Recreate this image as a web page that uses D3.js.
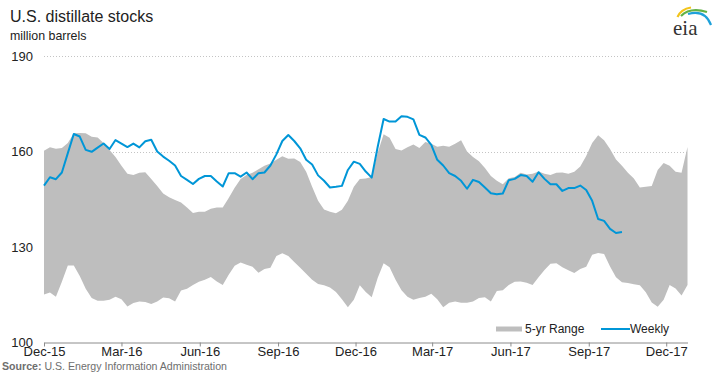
<!DOCTYPE html>
<html>
<head>
<meta charset="utf-8">
<script src="https://cdn.jsdelivr.net/npm/d3@7"></script>
<style>
  html, body { margin: 0; padding: 0; background: #fff; }
  svg { display: block; font-family: "Liberation Sans", Arial, sans-serif; }
</style>
</head>
<body>
<svg id="chart" width="719" height="384"></svg>
<script>
// ---- data (million barrels, weekly) ----
const firstWeek = "2015-12-01";
const lastWeek = "2017-12-26";
const weekly = [149.3,151.9,151.3,153.4,159.5,165.5,164.7,160.5,159.9,161.2,
  162.5,160.8,163.6,162.5,161.4,162.5,161.3,163.2,163.7,160.0,
  158.4,157.1,155.6,152.3,151.1,149.8,151.4,152.3,152.3,150.6,
  149.0,153.2,153.2,152.1,153.4,151.3,153.2,153.4,155.6,159.1,
  163.3,165.2,163.3,161.0,157.4,155.9,152.5,150.8,148.7,148.9,
  149.2,154.2,156.8,156.1,153.7,151.8,161.4,170.2,169.4,169.4,
  171.1,170.9,170.1,165.2,164.4,162.1,157.4,155.6,153.2,152.3,
  150.8,148.3,151.1,150.4,148.7,146.9,146.6,146.8,151.0,151.4,
  152.6,152.3,150.5,153.5,151.4,149.7,149.7,147.6,148.5,148.5,
  149.3,147.9,144.5,138.8,138.2,135.7,134.4,134.7];
const rangeHigh = [160.2,161.3,160.9,161.1,162.7,165.7,165.8,165.7,164.6,164.4,
  162.7,160.5,158.3,155.5,153.0,152.6,153.3,153.5,151.4,149.2,
  146.8,145.6,144.8,144.0,142.4,140.7,141.1,141.1,142.0,142.4,
  142.4,145.4,148.6,151.4,152.6,153.3,154.4,155.5,156.2,157.4,
  158.5,157.7,157.8,156.7,153.6,148.9,144.5,141.8,141.1,140.6,
  141.7,144.5,148.9,151.4,151.5,152.0,159.6,165.4,164.3,160.8,
  160.3,161.3,162.2,161.1,163.0,162.4,161.5,161.8,161.5,162.4,
  163.5,160.0,158.3,156.9,154.8,152.3,150.8,149.7,151.6,152.0,
  153.3,152.8,153.0,153.7,153.0,152.6,153.3,153.4,153.0,153.6,
  155.3,158.6,162.7,165.1,163.5,160.8,157.5,155.5,153.3,151.5,
  148.7,148.9,149.2,154.2,156.4,155.5,153.6,153.3,161.4];
const rangeLow = [115.1,115.7,114.4,119.1,124.2,124.2,120.9,116.9,114.0,113.1,
  113.1,113.4,114.4,113.6,111.3,112.4,112.9,112.7,112.1,112.9,
  114.1,113.9,112.9,116.3,116.9,118.1,119.1,119.7,120.6,119.2,
  118.1,121.3,124.1,125.1,124.4,123.8,121.9,123.1,123.5,127.2,
  128.0,127.2,125.3,123.5,121.6,119.7,118.4,118.0,117.3,115.9,
  113.6,111.1,113.4,118.0,115.9,114.2,120.3,124.9,123.6,119.7,
  116.4,114.4,113.4,114.0,114.4,115.3,113.6,111.1,112.5,112.9,
  112.5,112.5,112.9,114.0,114.2,112.9,116.2,116.4,118.1,119.1,
  119.2,118.8,118.1,120.5,122.8,124.7,124.9,123.6,122.7,121.8,
  123.1,123.8,127.6,128.1,127.8,123.9,120.5,118.9,118.7,118.3,
  118.0,115.8,112.6,111.2,113.4,118.1,117.0,114.8,118.1];
const xTickDates = ["2015-12-01","2016-03-01","2016-06-01","2016-09-01","2016-12-01",
  "2017-03-01","2017-06-01","2017-09-01","2017-12-01"];
const xTickLabels = ["Dec-15","Mar-16","Jun-16","Sep-16","Dec-16","Mar-17","Jun-17","Sep-17","Dec-17"];
const yTicks = [100,130,160,190];
const legendLabels = ["5-yr Range","Weekly"];

// ---- setup ----
const parse = d3.utcParse("%Y-%m-%d");
const t0 = parse(firstWeek);
const weeks = d3.range(rangeHigh.length).map(i => d3.utcDay.offset(t0, 7 * i));

const svg = d3.select("#chart");
const plotL = 44, plotR = 687.5, plotT = 56, plotB = 342.5;

const x = d3.scaleUtc().domain([t0, parse(lastWeek)]).range([plotL, plotR]);
const y = d3.scaleLinear().domain([100, 190]).range([plotB, plotT]);

// gridlines
svg.append("g").selectAll("line")
  .data(yTicks.filter(v => v > 100))
  .join("line")
  .attr("x1", plotL).attr("x2", plotR + 1)
  .attr("y1", d => Math.round(y(d)) + 0.5).attr("y2", d => Math.round(y(d)) + 0.5)
  .attr("stroke", "#c4c4c4").attr("stroke-width", 1).attr("stroke-dasharray", "1,2");

// 5-yr range area
const rangeData = weeks.map((d, i) => ({ d, lo: rangeLow[i], hi: rangeHigh[i] }));
svg.append("path")
  .datum(rangeData)
  .attr("fill", "#bebebe")
  .attr("d", d3.area().x(p => x(p.d)).y0(p => y(p.lo)).y1(p => y(p.hi)));

// weekly line
const weeklyData = weekly.map((v, i) => ({ d: weeks[i], v }));
svg.append("path")
  .datum(weeklyData)
  .attr("fill", "none")
  .attr("stroke", "#0096d7")
  .attr("stroke-width", 2)
  .attr("stroke-linejoin", "round")
  .attr("d", d3.line().x(p => x(p.d)).y(p => y(p.v)));

// x axis
const xAxis = d3.axisBottom(x)
  .tickValues(xTickDates.map(parse))
  .tickFormat((d, i) => xTickLabels[i])
  .tickSize(4).tickSizeOuter(0).tickPadding(0);
const gx = svg.append("g").attr("transform", `translate(0,${plotB})`).call(xAxis);
gx.select(".domain").attr("stroke", "#8c8c8c");
gx.selectAll(".tick line").attr("stroke", "#8c8c8c");
gx.selectAll(".tick text").attr("fill", "#222").attr("font-size", 13)
  .attr("font-family", "Liberation Sans, Arial, sans-serif");

// y axis labels
const yAxis = d3.axisLeft(y).tickValues(yTicks).tickFormat(d3.format("d")).tickSize(0).tickPadding(11);
const gy = svg.append("g").attr("transform", `translate(${plotL},0)`).call(yAxis);
gy.select(".domain").remove();
gy.selectAll(".tick text").attr("fill", "#222").attr("font-size", 13)
  .attr("font-family", "Liberation Sans, Arial, sans-serif");

// titles
svg.append("text").attr("x", 10).attr("y", 22).attr("font-size", 16).attr("fill", "#222")
  .text("U.S. distillate stocks");
svg.append("text").attr("x", 10).attr("y", 40).attr("font-size", 12.4).attr("fill", "#222")
  .text("million barrels");

// legend
const lg = svg.append("g");
lg.append("line").attr("x1", 496).attr("x2", 522).attr("y1", 329).attr("y2", 329)
  .attr("stroke", "#bebebe").attr("stroke-width", 5);
lg.append("text").attr("x", 525).attr("y", 333).attr("font-size", 12).attr("fill", "#222").text(legendLabels[0]);
lg.append("line").attr("x1", 601).attr("x2", 630).attr("y1", 329).attr("y2", 329)
  .attr("stroke", "#0096d7").attr("stroke-width", 2);
lg.append("text").attr("x", 630).attr("y", 333).attr("font-size", 12).attr("fill", "#222").text(legendLabels[1]);

// source
const src = svg.append("text").attr("x", 2).attr("y", 370).attr("font-size", 10.6).attr("fill", "#6e6e6e");
src.append("tspan").attr("font-weight", "bold").text("Source:");
src.append("tspan").text(" U.S. Energy Information Administration");

// eia logo
const logo = svg.append("g");
logo.append("path").attr("d", "M677.5,17 Q681,9 691,7.5").attr("fill", "none").attr("stroke", "#f2c41b").attr("stroke-width", 2.2);
logo.append("path").attr("d", "M681,16 Q690,7 707,12").attr("fill", "none").attr("stroke", "#62b246").attr("stroke-width", 2.2);
logo.append("path").attr("d", "M688,14 Q705,9 711,25").attr("fill", "none").attr("stroke", "#1ea1da").attr("stroke-width", 2.2);
logo.append("text").attr("x", 673).attr("y", 35).attr("font-size", 21)
  .attr("font-family", "Liberation Serif, DejaVu Serif, serif").attr("fill", "#333").text("eia");
</script>
</body>
</html>
